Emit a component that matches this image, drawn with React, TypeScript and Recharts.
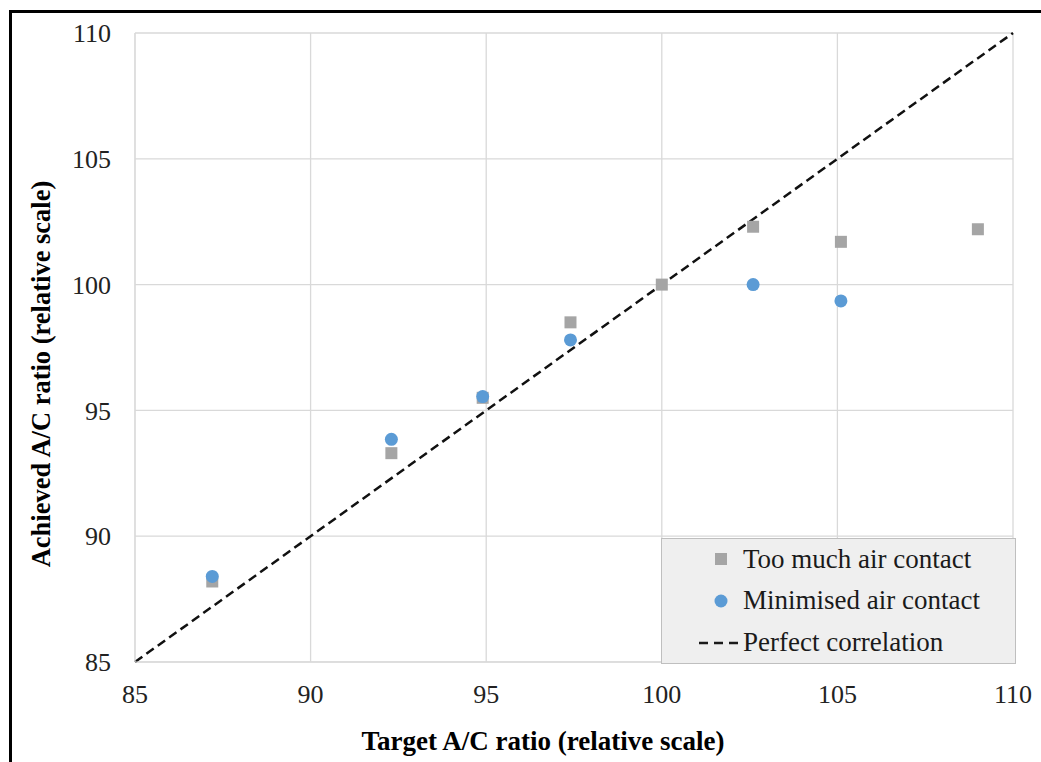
import React from "react";
import {
  ScatterChart,
  Scatter,
  XAxis,
  YAxis,
  CartesianGrid,
  ReferenceLine,
} from "recharts";

// values
const tooMuchX = [87.2, 92.3, 94.9, 97.4, 100, 102.6, 105.1, 109.0];
const tooMuchY = [88.2, 93.3, 95.5, 98.5, 100, 102.3, 101.7, 102.2];
const minimisedX = [87.2, 92.3, 94.9, 97.4, 102.6, 105.1];
const minimisedY = [88.4, 93.85, 95.55, 97.8, 100, 99.35];
const ticks = [85, 90, 95, 100, 105, 110];
const perfectLine = [85, 110];

const tooMuch = tooMuchX.map((x, i) => ({ x, y: tooMuchY[i] }));
const minimised = minimisedX.map((x, i) => ({ x, y: minimisedY[i] }));

const FONT = "'Liberation Serif', 'Times New Roman', serif";
const GRID = "#d9d9d9";
const GRAY = "#a5a5a5";
const BLUE = "#5b9bd5";

const SquareShape = (props: any) => (
  <rect x={props.cx - 6} y={props.cy - 6} width={12} height={12} fill={GRAY} />
);
const CircleShape = (props: any) => (
  <circle cx={props.cx} cy={props.cy} r={6.5} fill={BLUE} />
);

function LegendBox() {
  const rows = [
    { name: "Too much air contact", kind: "square" },
    { name: "Minimised air contact", kind: "circle" },
    { name: "Perfect correlation", kind: "dash" },
  ];
  return (
    <div
      style={{
        position: "absolute",
        left: 661,
        top: 538,
        width: 355,
        height: 126,
        background: "#efefef",
        border: "1px solid #bfbfbf",
        fontFamily: FONT,
        fontSize: 27,
        color: "#1a1a1a",
        boxSizing: "border-box",
      }}
    >
      {rows.map((r, i) => (
        <div
          key={r.name}
          style={{
            position: "absolute",
            left: 0,
            top: 5 + i * 41.5,
            height: 30,
            display: "flex",
            alignItems: "center",
          }}
        >
          <svg width={80} height={30} style={{ display: "block" }}>
            {r.kind === "square" && <rect x={53} y={9} width={12} height={12} fill={GRAY} />}
            {r.kind === "circle" && <circle cx={59} cy={15} r={6.5} fill={BLUE} />}
            {r.kind === "dash" && (
              <line x1={37} y1={16} x2={78} y2={16} stroke="#1a1a1a" strokeWidth={2.5} strokeDasharray="9 6" />
            )}
          </svg>
          <span style={{ marginLeft: 1, whiteSpace: "nowrap" }}>{r.name}</span>
        </div>
      ))}
    </div>
  );
}

export default function App() {
  return (
    <div
      style={{
        position: "absolute",
        left: 0,
        top: 0,
        width: 1041,
        height: 762,
        overflow: "hidden",
        background: "#fff",
      }}
    >
      <div
        style={{
          position: "absolute",
          left: 9,
          top: 10,
          width: 1100,
          height: 800,
          borderTop: "3px solid #000",
          borderLeft: "3px solid #000",
        }}
      />
      <div style={{ position: "absolute", left: 0, top: 0 }}>
        <ScatterChart
          width={1041}
          height={762}
          margin={{ top: 33, right: 28, bottom: 70, left: 0 }}
        >
          <CartesianGrid stroke={GRID} strokeWidth={1.3} />
          <XAxis
            type="number"
            dataKey="x"
            domain={[85, 110]}
            ticks={ticks}
            allowDataOverflow
            height={30}
            axisLine={{ stroke: GRID }}
            tickLine={false}
            tickSize={0}
            tickMargin={23}
            tick={{ fill: "#222", fontSize: 26, fontFamily: FONT }}
            label={{
              content: () => (
                <text
                  x={543}
                  y={741}
                  textAnchor="middle"
                  dominantBaseline="central"
                  style={{ fill: "#000", fontSize: 27, fontWeight: "bold", fontFamily: FONT }}
                >
                  Target A/C ratio (relative scale)
                </text>
              ),
            }}
          />
          <YAxis
            type="number"
            dataKey="y"
            domain={[85, 110]}
            ticks={ticks}
            allowDataOverflow
            width={135}
            axisLine={{ stroke: GRID }}
            tickLine={false}
            tickSize={0}
            tickMargin={24}
            tick={{ fill: "#222", fontSize: 26, fontFamily: FONT }}
            label={{
              content: () => (
                <text
                  x={41}
                  y={374}
                  transform="rotate(-90 41 374)"
                  textAnchor="middle"
                  dominantBaseline="central"
                  style={{ fill: "#000", fontSize: 26.5, fontWeight: "bold", fontFamily: FONT }}
                >
                  Achieved A/C ratio (relative scale)
                </text>
              ),
            }}
          />
          <ReferenceLine
            segment={[
              { x: perfectLine[0], y: perfectLine[0] },
              { x: perfectLine[1], y: perfectLine[1] },
            ]}
            stroke="#111"
            strokeWidth={2.5}
            strokeDasharray="9 5"
            ifOverflow="visible"
          />
          <Scatter
            name="Too much air contact"
            data={tooMuch}
            shape={SquareShape}
            isAnimationActive={false}
          />
          <Scatter
            name="Minimised air contact"
            data={minimised}
            shape={CircleShape}
            isAnimationActive={false}
          />
        </ScatterChart>
      </div>
      <LegendBox />
    </div>
  );
}
